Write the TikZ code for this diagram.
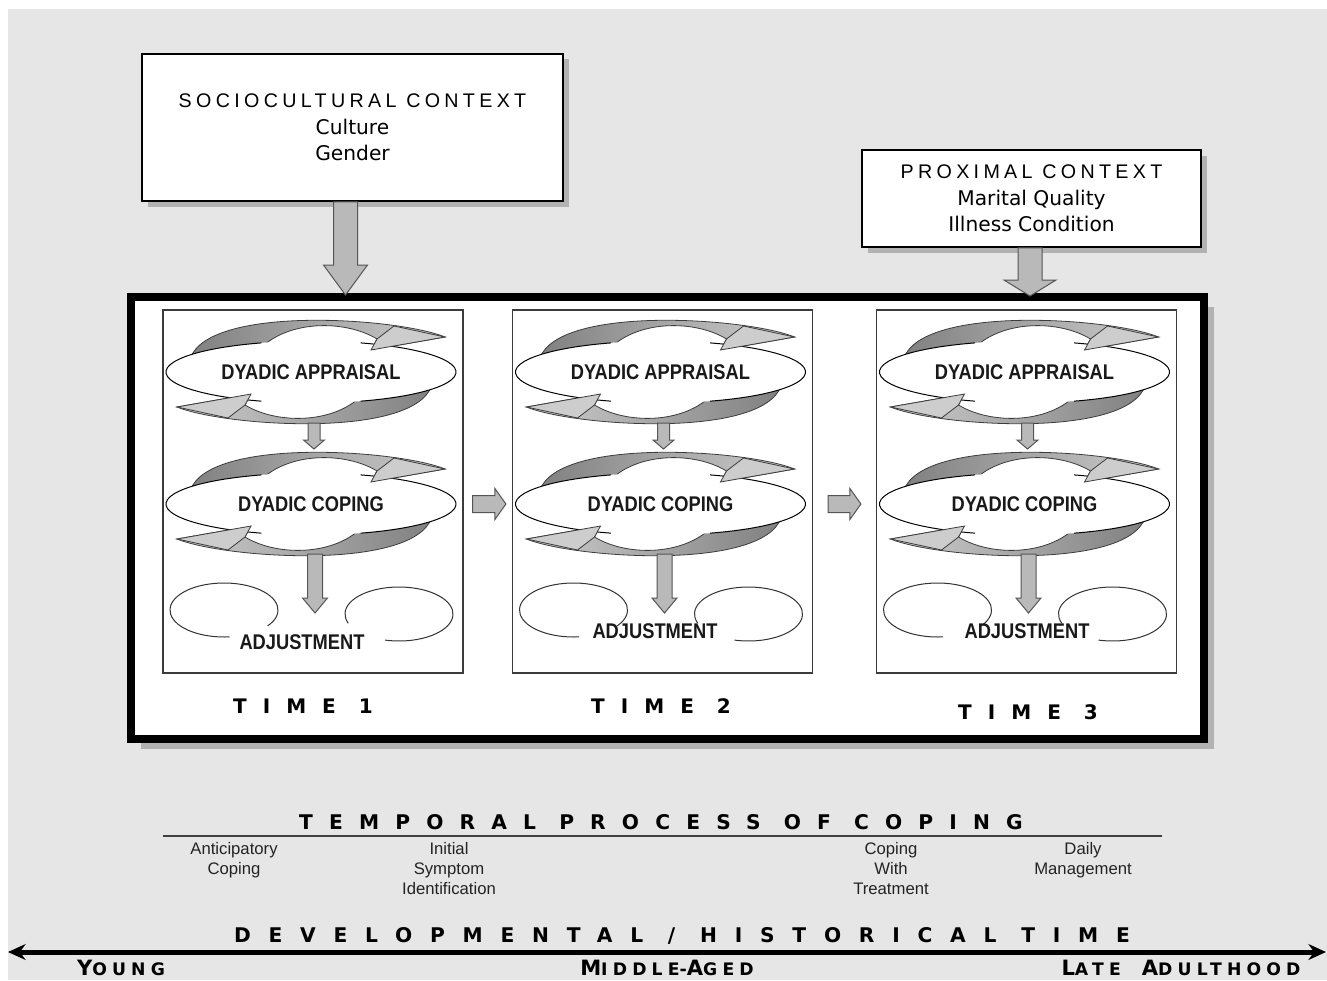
\documentclass[tikz,border=0pt]{standalone}
\usepackage{fontspec}
\usepackage{graphicx}
\setmainfont{Liberation Sans}
\newfontfamily\hdrfont{Liberation Sans}[LetterSpace=22]
\newfontfamily\itemfont{DejaVu Sans}
\newfontfamily\wideft{DejaVu Sans}[LetterSpace=80]
\newfontfamily\widerft{DejaVu Sans}[LetterSpace=88]
\newfontfamily\agefont{DejaVu Sans}[LetterSpace=30]
\usetikzlibrary{calc,positioning,arrows.meta,shapes.geometric,shadows}

\newlength{\pxu}
\setlength{\pxu}{0.02cm}

\definecolor{bggray}{RGB}{230,230,230}
\definecolor{shadowgray}{RGB}{178,178,178}
\definecolor{arrfill}{RGB}{185,185,185}
\definecolor{arrline}{RGB}{85,85,85}
\definecolor{banddark}{RGB}{128,128,128}
\definecolor{bandlight}{RGB}{205,205,205}
\definecolor{bandline}{RGB}{60,60,60}
\definecolor{panelline}{RGB}{60,60,60}
\definecolor{txtgray}{RGB}{35,35,35}

% first letter big, rest small
\newcommand{\bigsc}[2]{{\fontsize{12}{13}\selectfont #1}{\fontsize{9.8}{11}\selectfont #2}}
% header line of a context box
\newcommand{\ctxhead}[1]{{\hdrfont\fontsize{11.2}{15}\selectfont #1}}

% block arrows: from, to, shaft half width, head half width, head length
\newcommand{\vblock}[5]{%
  \draw[blockarr] let \p1=#1, \p2=#2 in
    ($(\x1,\y1)+(-#3,0)$) -- ($(\x1,\y2)+(-#3,-#5)$) -- ($(\x1,\y2)+(-#4,-#5)$) -- (\x1,\y2)
    -- ($(\x1,\y2)+(#4,-#5)$) -- ($(\x1,\y2)+(#3,-#5)$) -- ($(\x1,\y1)+(#3,0)$) -- cycle;}
\newcommand{\hblock}[5]{%
  \draw[blockarr] let \p1=#1, \p2=#2 in
    ($(\x1,\y1)+(0,-#3)$) -- ($(\x2,\y1)+(-#5,-#3)$) -- ($(\x2,\y1)+(-#5,-#4)$) -- (\x2,\y1)
    -- ($(\x2,\y1)+(-#5,#4)$) -- ($(\x2,\y1)+(-#5,#3)$) -- ($(\x1,\y1)+(0,#3)$) -- cycle;}

% cloud with two curved arrows: name, x, y, text
\newcommand{\dyad}[4]{%
  \begin{scope}[shift={(#2,#3)}]
    \foreach \r/\lc/\rc in {0/banddark/bandlight,180/bandlight/banddark}
      \shade[bandsty, rotate=\r, left color=\lc, right color=\rc]
        (-122,-8) .. controls (-115,-68) and (85,-55) .. (134,-35) -- (60,-22) -- (66,-33)
        .. controls (30,-55) and (-40,-52) .. (-62,-8) -- cycle;
    \node[cloud] (#1) at (0,0) {\scalebox{0.86}[1]{#4}};
    \draw[cloudline] (-49.6,-29.1) arc[start angle=-110, end angle=-250, x radius=145, y radius=31];
    \draw[cloudline] (49.6,-29.1) arc[start angle=-70, end angle=70, x radius=145, y radius=31];
    \foreach \r in {0,180}
      \filldraw[headsty, rotate=\r] (83,-46) -- (134,-35) -- (60,-22) -- (66,-33) -- cycle;
  \end{scope}}

\begin{document}
\begin{tikzpicture}[x=0.02cm,y=-0.02cm]
  \tikzstyle{ctxbox}=[draw=black, line width=1.5\pxu, fill=white, inner sep=0pt, align=center,
    font=\itemfont\fontsize{11.5}{15}\selectfont,
    drop shadow={shadow xshift=0.11cm, shadow yshift=-0.11cm, fill=shadowgray, opacity=1}]
  \tikzstyle{bigframe}=[draw=black, line width=8\pxu, fill=white, inner sep=0pt,
    drop shadow={shadow xshift=0.2cm, shadow yshift=-0.2cm, fill=shadowgray, opacity=1}]
  \tikzstyle{panel}=[draw=panelline, line width=1.2\pxu, fill=white, inner sep=0pt,
    minimum width=300\pxu, minimum height=363\pxu]
  \tikzstyle{blockarr}=[draw=arrline, fill=arrfill, line width=1\pxu]
  \tikzstyle{bandsty}=[draw=bandline, line width=0.8\pxu]
  \tikzstyle{headsty}=[draw=bandline, fill=bandlight, line width=0.8\pxu]
  \tikzstyle{cloud}=[ellipse, fill=white, inner sep=0pt, minimum width=290\pxu, minimum height=62\pxu,
    font=\bfseries\fontsize{12.1}{13}\selectfont, text=black!90]
  \tikzstyle{cloudline}=[draw=black, line width=1\pxu]
  \tikzstyle{lobeline}=[draw=black!80, line width=1\pxu]
  \tikzstyle{adjtext}=[inner sep=0pt, font=\bfseries\fontsize{12.1}{13}\selectfont, text=black!90]
  \tikzstyle{timetext}=[inner sep=0pt, font=\wideft\bfseries\fontsize{11.4}{13}\selectfont]
  \tikzstyle{widetext}=[inner sep=0pt, font=\wideft\bfseries\fontsize{11.5}{13}\selectfont]
  \tikzstyle{widertext}=[inner sep=0pt, font=\widerft\bfseries\fontsize{11.5}{13}\selectfont]
  \tikzstyle{phase}=[inner sep=0pt, align=center, text=txtgray, font=\fontsize{9.5}{11.4}\selectfont]
  \tikzstyle{agetext}=[inner sep=0pt, font=\agefont\bfseries]
  \tikzstyle{timeline}=[line width=5\pxu, {Stealth[length=10pt,width=9pt]}-{Stealth[length=10pt,width=9pt]}]

  \useasboundingbox (0,0) rectangle (1327,980);
  \fill[white] (0,0) rectangle (1327,980);
  \fill[bggray] (8,9) rectangle (1327,980);

  % context boxes
  \node[ctxbox, minimum width=421\pxu, minimum height=147\pxu] (soc) at (352.5,127.5)
    {\ctxhead{SOCIOCULTURAL CONTEXT}\\Culture\\Gender};
  \node[ctxbox, minimum width=339\pxu, minimum height=97\pxu] (prox) at (1031.5,198.5)
    {\ctxhead{PROXIMAL CONTEXT}\\Marital Quality\\Illness Condition};

  % main frame
  \node[bigframe, minimum width=1073\pxu, minimum height=442\pxu] (frame) at (667.5,518) {};

  % the three time panels
  \foreach \i/\cx/\ax/\ay/\tx/\ty in {1/313/302/649/303/713, 2/662.5/655/638/661/713, 3/1026.5/1027/638/1028/719}{
    \node[panel] (p\i) at (\cx,491.5) {};
    \dyad{a\i}{\cx-2}{372}{DYADIC APPRAISAL}
    \dyad{c\i}{\cx-2}{504}{DYADIC COPING}
    \begin{scope}[shift={(\cx,0)}]
      \draw[lobeline] (-89,610) ++(36:54 and 27) arc[start angle=36, end angle=-276, x radius=54, y radius=27];
      \draw[lobeline] (86,614) ++(-200:54 and 27) arc[start angle=-200, end angle=105, x radius=54, y radius=27];
    \end{scope}
    \node[adjtext, anchor=base] (j\i) at (\ax,\ay) {\scalebox{0.86}[1]{ADJUSTMENT}};
    \node[timetext, anchor=base] (t\i) at (\tx,\ty) {TIME \i};
    \vblock{($(a\i)+(3,51)$)}{($(c\i)+(3,-55)$)}{6}{10.5}{9}
    \vblock{($(c\i)+(4,50)$)}{($(c\i)+(4,109)$)}{7.5}{12.5}{15}
  }

  % arrows between panels
  \hblock{($(p1.east |- c1)+(9,0)$)}{($(p2.west |- c1)+(-6,0)$)}{8.5}{15.5}{11}
  \hblock{($(p2.east |- c2)+(15,0)$)}{($(p3.west |- c2)+(-15,0)$)}{8.5}{15.5}{11}

  % context arrows
  \vblock{($(soc.south)+(-7,0)$)}{($(frame.north)+(0,2)$)}{12}{22}{30}
  \vblock{($(prox.south)+(-1.5,0)$)}{($(frame.north)+(0,3)$)}{12}{26}{16}

  % temporal process
  \node[widetext, anchor=base] (tpc) at (661,829) {TEMPORAL PROCESS OF COPING};
  \coordinate (tpcl) at (163,836);
  \coordinate (tpcr) at (1162,836);
  \draw[draw=black!75, line width=1.2\pxu] (tpcl) -- (tpcr);
  \node[phase, anchor=north] (ph1) at (234,842) {Anticipatory\\Coping};
  \node[phase, anchor=north] (ph2) at (449,842) {Initial\\Symptom\\Identification};
  \node[phase, anchor=north] (ph3) at (891,842) {Coping\\With\\Treatment};
  \node[phase, anchor=north] (ph4) at (1083,842) {Daily\\Management};

  % developmental time
  \node[widertext, anchor=base] (dht) at (682,942) {DEVELOPMENTAL / HISTORICAL TIME};
  \coordinate (tlleft) at (8,952);
  \coordinate (tlright) at (1326,952);
  \draw[timeline] (tlleft) -- (tlright);
  \node[agetext, anchor=base] (young) at (121,975) {\bigsc{Y}{OUNG}};
  \node[agetext, anchor=base] (middle) at (667,975) {\bigsc{M}{IDDLE}-\bigsc{A}{GED}};
  \node[agetext, anchor=base] (late) at (1181,975) {\bigsc{L}{ATE}\hspace{12pt}\bigsc{A}{DULTHOOD}};
\end{tikzpicture}
\end{document}
